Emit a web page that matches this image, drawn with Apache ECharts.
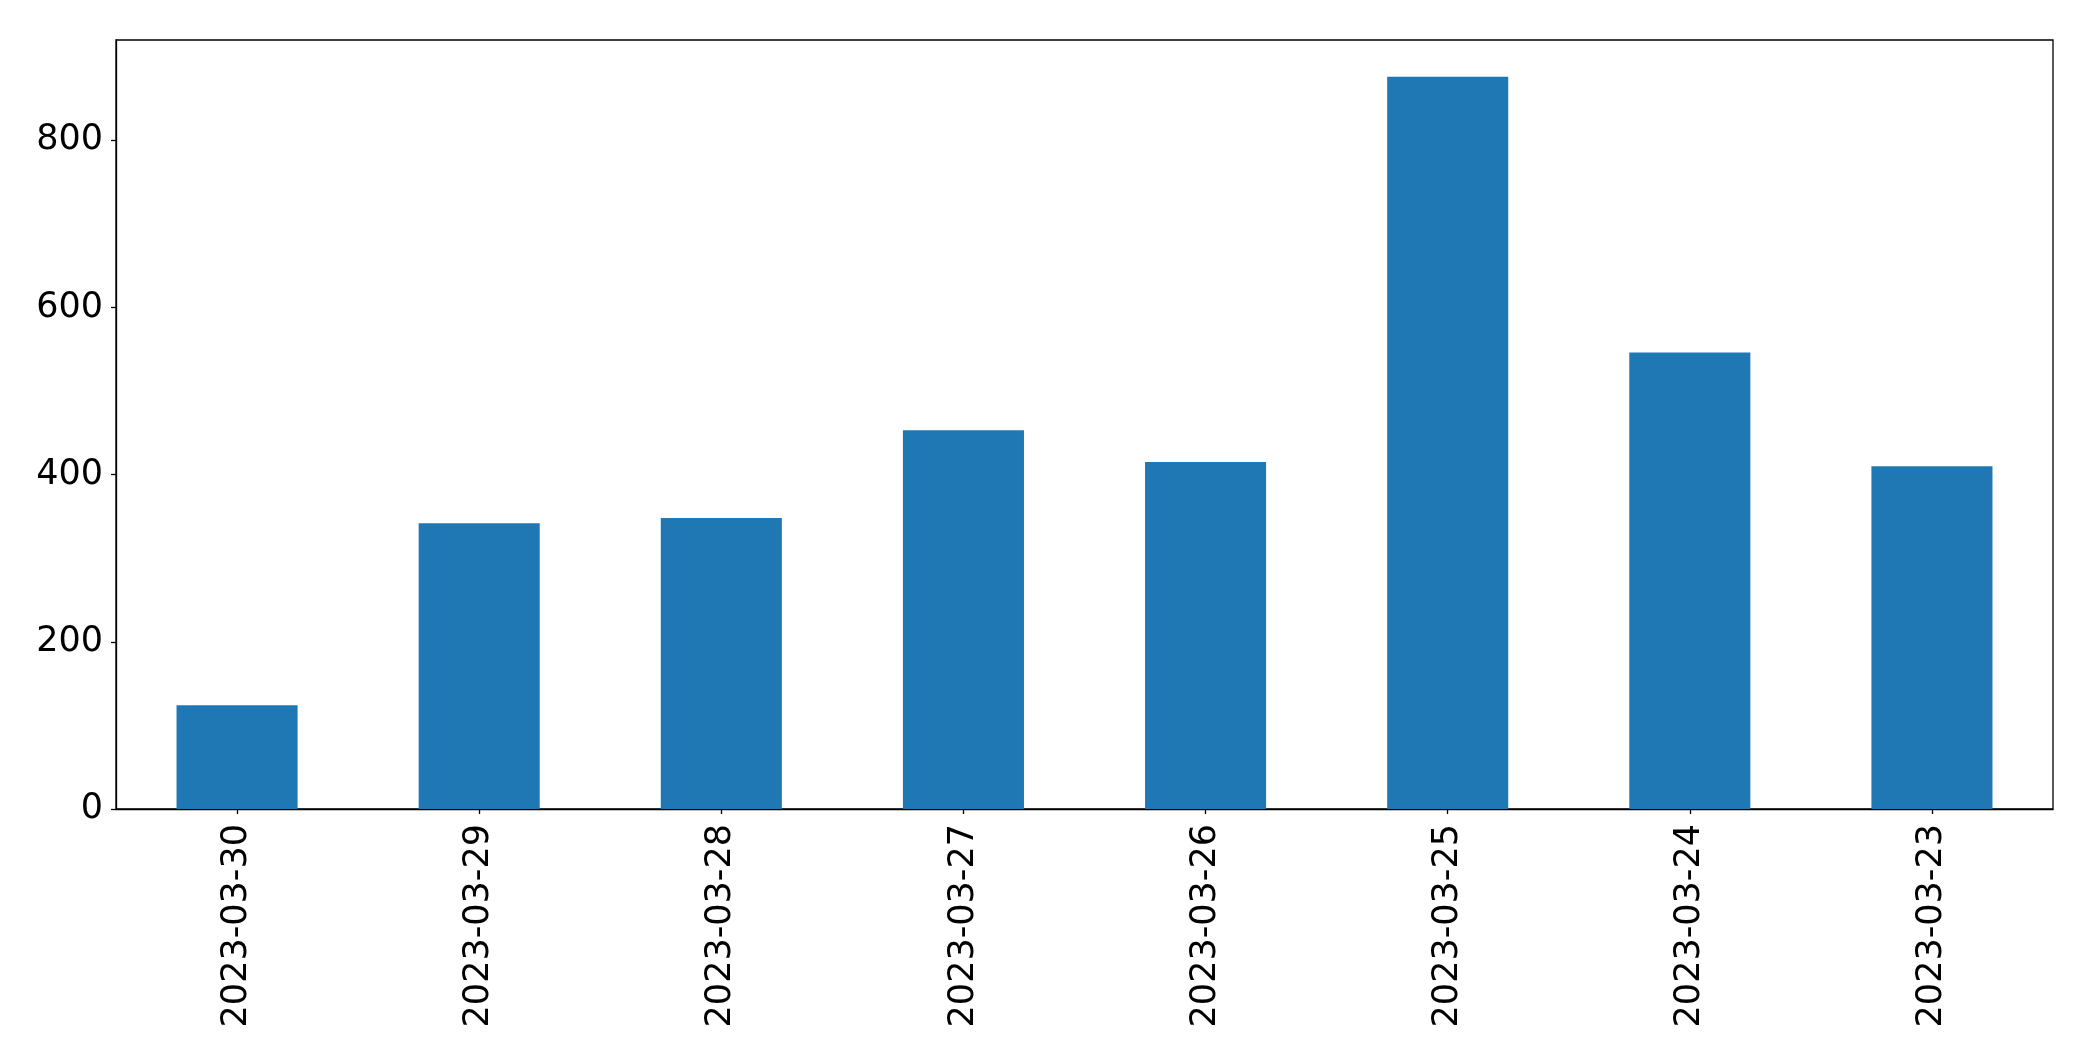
<!DOCTYPE html>
<html>
<head>
<meta charset="utf-8">
<script src="https://cdn.jsdelivr.net/npm/echarts@6/dist/echarts.min.js"></script>
<style>html,body{margin:0;padding:0;background:#fff;}#c{width:2093px;height:1061px;}</style>
</head>
<body>
<div id="c"></div>
<script>
const categories = ["2023-03-30","2023-03-29","2023-03-28","2023-03-27","2023-03-26","2023-03-25","2023-03-24","2023-03-23"];
const values = [124, 342, 348, 453, 415, 876, 546, 410];
const yTicks = [0, 200, 400, 600, 800];

const chart = echarts.init(document.getElementById('c'), null, {renderer: 'canvas'});
const font = 'DejaVu Sans';
chart.setOption({
  animation: false,
  backgroundColor: '#fff',
  grid: {left: 116, right: 40, top: 40, bottom: 252, show: true, borderColor: '#000', borderWidth: 1.3, backgroundColor: 'transparent'},
  xAxis: {
    type: 'category',
    data: categories,
    axisLine: {show: true, lineStyle: {color: '#000', width: 1.3}},
    axisTick: {show: true, alignWithLabel: true, length: 5, lineStyle: {color: '#000', width: 1.3}},
    axisLabel: {rotate: 90, fontSize: 35, fontFamily: font, color: '#000', margin: 15, interval: 0},
    splitLine: {show: false}
  },
  yAxis: {
    type: 'value',
    min: 0,
    max: 920,
    interval: 200,
    axisLine: {show: true, lineStyle: {color: '#000', width: 1.3}},
    axisTick: {show: true, length: 5, lineStyle: {color: '#000', width: 1.3},
      customValues: yTicks},
    axisLabel: {fontSize: 35, fontFamily: font, color: '#000', margin: 13,
      customValues: yTicks},
    splitLine: {show: false}
  },
  series: [{
    type: 'bar',
    data: values,
    barCategoryGap: '50%',
    itemStyle: {color: '#1f77b4'}
  }]
});
</script>
</body>
</html>
